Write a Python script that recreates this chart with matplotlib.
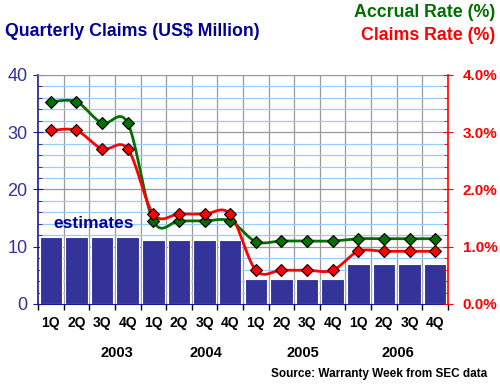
import numpy as np
import matplotlib.pyplot as plt
from matplotlib.ticker import MultipleLocator, FuncFormatter

quarters = ['1Q', '2Q', '3Q', '4Q'] * 4
years = ['2003', '2004', '2005', '2006']
claims = [11.7, 11.7, 11.7, 11.7, 11.2, 11.2, 11.2, 11.2,
          4.4, 4.4, 4.4, 4.4, 7.0, 7.0, 7.0, 7.0]
accrual = [3.53, 3.53, 3.16, 3.16, 1.45, 1.45, 1.45, 1.45,
           1.09, 1.10, 1.10, 1.10, 1.14, 1.14, 1.14, 1.14]
claims_rate = [3.03, 3.03, 2.71, 2.71, 1.57, 1.57, 1.57, 1.57,
               0.59, 0.59, 0.59, 0.59, 0.92, 0.92, 0.92, 0.92]

plt.rcParams['font.family'] = ['Liberation Sans', 'DejaVu Sans']

navy = '#1a1a8c'
barc = '#333399'
green = '#007000'
red = '#ff0000'


def smooth(x, y, n=20):
    # excel style smoothed line (catmull-rom through the points)
    x = np.asarray(x, float)
    y = np.asarray(y, float)
    px = np.concatenate([[x[0]], x, [x[-1]]])
    py = np.concatenate([[y[0]], y, [y[-1]]])
    xs, ys = [], []
    t = np.linspace(0, 1, n)
    for i in range(1, len(px) - 2):
        p0, p1, p2, p3 = py[i - 1], py[i], py[i + 1], py[i + 2]
        q0, q1, q2, q3 = px[i - 1], px[i], px[i + 1], px[i + 2]
        b1y, b2y = p1 + (p2 - p0) / 6, p2 - (p3 - p1) / 6
        b1x, b2x = q1 + (q2 - q0) / 6, q2 - (q3 - q1) / 6
        ys.append((1-t)**3*p1 + 3*(1-t)**2*t*b1y + 3*(1-t)*t**2*b2y + t**3*p2)
        xs.append((1-t)**3*q1 + 3*(1-t)**2*t*b1x + 3*(1-t)*t**2*b2x + t**3*q2)
    return np.concatenate(xs), np.concatenate(ys)


fig = plt.figure(figsize=(5, 3.85), dpi=100)
ax = fig.add_axes([0.076, 0.2104, 0.82, 0.595])
x = np.arange(len(claims))

ax.bar(x, claims, width=0.88, color=barc, edgecolor='white', linewidth=0.8, zorder=3)
ax.set_xlim(-0.5, 15.5)
ax.set_ylim(0, 40)
ax.yaxis.set_major_locator(MultipleLocator(10))
ax.yaxis.set_minor_locator(MultipleLocator(2))
ax.grid(which='minor', axis='y', color='#99ccff', lw=0.9, zorder=0)
ax.grid(which='major', axis='y', color='#999999', lw=0.9, zorder=1)
for b in np.arange(0.5, 15, 1):
    ax.axvline(b, color='#999999', lw=0.9, zorder=1)
ax.set_xticks(np.arange(-0.5, 16, 1))
ax.set_xticklabels([])
ax.tick_params(axis='x', length=4, color='black', width=1)
ax.tick_params(axis='y', which='major', direction='inout', length=7, color=navy,
               labelcolor=barc, labelsize=13, pad=4)
ax.tick_params(axis='y', which='minor', direction='in', length=3, color=navy)
ax.spines['top'].set_color('#999999')
ax.spines['left'].set_color(navy)
ax.spines['bottom'].set_color(navy)
ax.spines['right'].set_visible(False)
ax.spines['left'].set_linewidth(1.2)

ax2 = ax.twinx()
ax2.set_ylim(0, 4)
ax2.yaxis.set_major_locator(MultipleLocator(1))
ax2.yaxis.set_minor_locator(MultipleLocator(0.2))
ax2.yaxis.set_major_formatter(FuncFormatter(lambda v, p: '%.1f%%' % v))
ax2.tick_params(axis='y', which='major', direction='inout', length=7, color=red,
                labelcolor=red, labelsize=11, pad=7)
ax2.tick_params(axis='y', which='minor', direction='in', length=3, color=red)
for lab in ax2.get_yticklabels():
    lab.set_fontweight('bold')
ax2.spines['right'].set_color(red)
ax2.spines['right'].set_linewidth(1.2)
for s in ['left', 'top', 'bottom']:
    ax2.spines[s].set_visible(False)

sx, sy = smooth(x, accrual)
ax2.plot(sx, sy, color=green, lw=2, zorder=4)
ax2.plot(x, accrual, ls='none', marker='D', ms=6.5, mfc=green, mec='black', mew=0.8, zorder=5)
sx, sy = smooth(x, claims_rate)
ax2.plot(sx, sy, color=red, lw=2, zorder=4)
ax2.plot(x, claims_rate, ls='none', marker='D', ms=6.5, mfc=red, mec='black', mew=0.8, zorder=5)

for i, q in enumerate(quarters):
    ax.text(i, -3.3, q, ha='center', va='center', fontsize=10, fontweight='bold')
for xp, yr in zip([2.59, 6.06, 9.83, 13.56], years):
    ax.text(xp, -8.5, yr, ha='center', va='center', fontsize=10.5, fontweight='bold')

ax.text(0.1, 12.7, 'estimates', color='#000099', fontsize=12.5, fontweight='bold',
        ha='left', va='bottom', zorder=6)

fig.text(0.01, 0.918, 'Quarterly Claims (US$ Million)', color='#000099', fontsize=12.8,
         fontweight='bold', ha='left', va='center')
fig.text(0.99, 0.968, 'Accrual Rate (%)', color=green, fontsize=12.8,
         fontweight='bold', ha='right', va='center')
fig.text(0.99, 0.907, 'Claims Rate (%)', color=red, fontsize=12.8,
         fontweight='bold', ha='right', va='center')
fig.text(0.974, 0.029, 'Source: Warranty Week from SEC data', fontsize=8.5,
         fontweight='bold', ha='right', va='center')

fig.savefig('out.png', dpi=100)
